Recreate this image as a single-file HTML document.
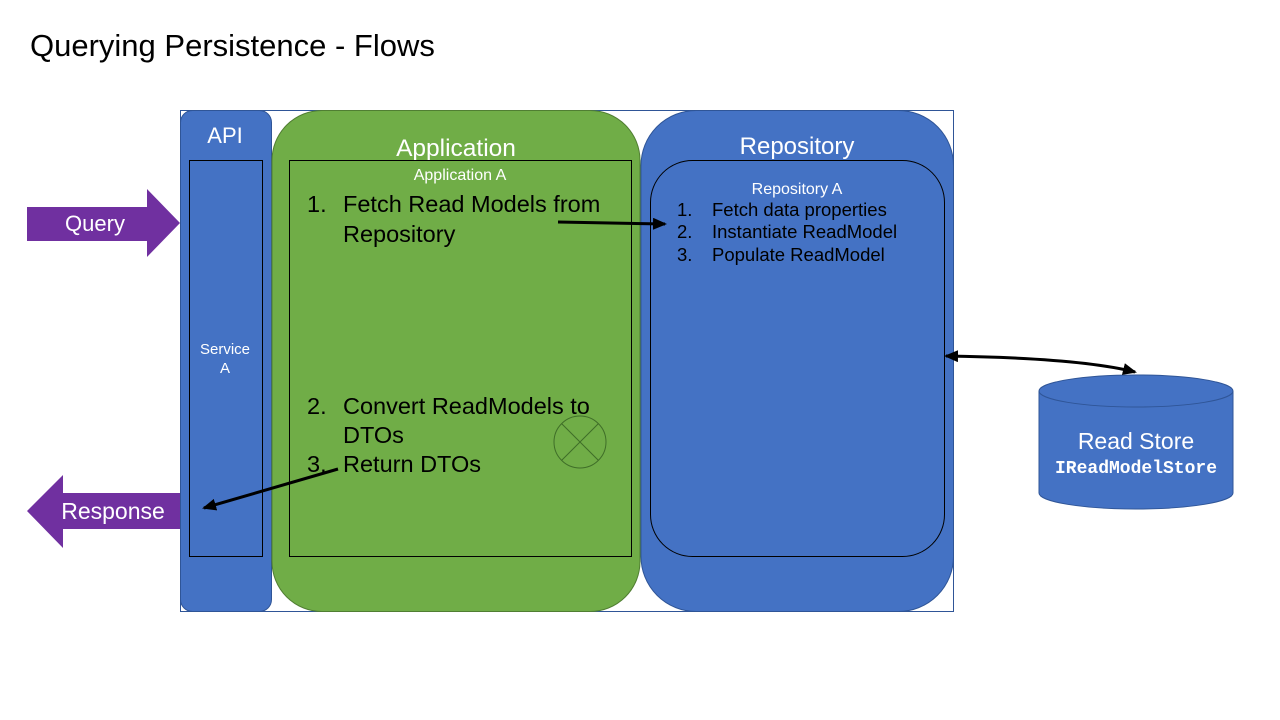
<!DOCTYPE html>
<html><head><meta charset="utf-8"><style>
html,body{margin:0;padding:0;background:#fff;}
svg{display:block;font-family:"Liberation Sans",sans-serif;}
</style></head><body>
<svg width="1280" height="720" viewBox="0 0 1280 720" xmlns="http://www.w3.org/2000/svg">
<defs>
<marker id="ah" markerWidth="14" markerHeight="12" refX="12" refY="6" orient="auto" markerUnits="userSpaceOnUse">
<path d="M0,0 L14,6 L0,12 z" fill="#000"/></marker>
<marker id="ahs" markerWidth="14" markerHeight="12" refX="2" refY="6" orient="auto" markerUnits="userSpaceOnUse">
<path d="M14,0 L0,6 L14,12 z" fill="#000"/></marker>
</defs>
<text x="30" y="56" font-size="31" fill="#000">Querying Persistence - Flows</text>
<rect x="180.5" y="110.5" width="773" height="501" fill="#fff" stroke="#2F5597" stroke-width="1"/>
<!-- API -->
<rect x="180.5" y="110.5" width="91" height="501" rx="12" fill="#4472C4" stroke="#2F5597"/>
<text x="225" y="143" font-size="22" fill="#fff" text-anchor="middle">API</text>
<rect x="189.5" y="160.5" width="73" height="396" fill="none" stroke="#000"/>
<text x="225" y="354" font-size="15" fill="#fff" text-anchor="middle">Service</text>
<text x="225" y="373" font-size="15" fill="#fff" text-anchor="middle">A</text>
<!-- Application -->
<rect x="272" y="110.5" width="368" height="501" rx="50" fill="#70AD47" stroke="#507E32"/>
<text x="456" y="156" font-size="24.5" fill="#fff" text-anchor="middle">Application</text>
<rect x="289.5" y="160.5" width="342" height="396" fill="none" stroke="#000"/>
<text x="460" y="180" font-size="16" fill="#fff" text-anchor="middle">Application A</text>
<g font-size="23.5" fill="#000">
<text x="307" y="212">1.</text><text x="343" y="212">Fetch Read Models from</text>
<text x="343" y="242">Repository</text>
<text x="307" y="414">2.</text><text x="343" y="414">Convert ReadModels to</text>
<text x="343" y="443">DTOs</text>
<text x="307" y="472">3.</text><text x="343" y="472">Return DTOs</text>
</g>
<circle cx="580" cy="442" r="26" fill="none" stroke="#3F6E28" stroke-width="1"/>
<line x1="561.6" y1="423.6" x2="598.4" y2="460.4" stroke="#3F6E28"/>
<line x1="598.4" y1="423.6" x2="561.6" y2="460.4" stroke="#3F6E28"/>
<!-- Repository -->
<rect x="641" y="110.5" width="312.5" height="501" rx="55" fill="#4472C4" stroke="#2F5597"/>
<text x="797" y="154" font-size="24" fill="#fff" text-anchor="middle">Repository</text>
<rect x="650.5" y="160.5" width="294" height="396" rx="42" fill="none" stroke="#000"/>
<text x="797" y="194" font-size="16" fill="#fff" text-anchor="middle">Repository A</text>
<g font-size="18.5" fill="#000">
<text x="677" y="216">1.</text><text x="712" y="216">Fetch data properties</text>
<text x="677" y="238">2.</text><text x="712" y="238">Instantiate ReadModel</text>
<text x="677" y="261">3.</text><text x="712" y="261">Populate ReadModel</text>
</g>
<!-- Cylinder -->
<path d="M1039,391 L1039,493 A97,16 0 0 0 1233,493 L1233,391" fill="#4472C4" stroke="#2F5597"/>
<ellipse cx="1136" cy="391" rx="97" ry="16" fill="#4472C4" stroke="#2F5597"/>
<text x="1136" y="449" font-size="23" fill="#fff" text-anchor="middle">Read Store</text>
<text x="1136" y="473" font-size="18" font-weight="bold" font-family="Liberation Mono,monospace" fill="#fff" text-anchor="middle">IReadModelStore</text>
<!-- Arrows -->
<line x1="558" y1="222" x2="665" y2="224" stroke="#000" stroke-width="3" marker-end="url(#ah)"/>
<line x1="338" y1="469" x2="204" y2="508" stroke="#000" stroke-width="3" marker-end="url(#ah)"/>
<path d="M946,356 Q1080,358 1135,372" fill="none" stroke="#000" stroke-width="3" marker-start="url(#ahs)" marker-end="url(#ah)"/>
<!-- Query -->
<path d="M27,207 L147,207 L147,189 L180,223 L147,257 L147,241 L27,241 z" fill="#7030A0"/>
<text x="95" y="231" font-size="22" fill="#fff" text-anchor="middle">Query</text>
<path d="M180,493 L63,493 L63,475 L27,511 L63,548 L63,529 L180,529 z" fill="#7030A0"/>
<text x="113" y="519" font-size="23" fill="#fff" text-anchor="middle">Response</text>
</svg>
</body></html>
